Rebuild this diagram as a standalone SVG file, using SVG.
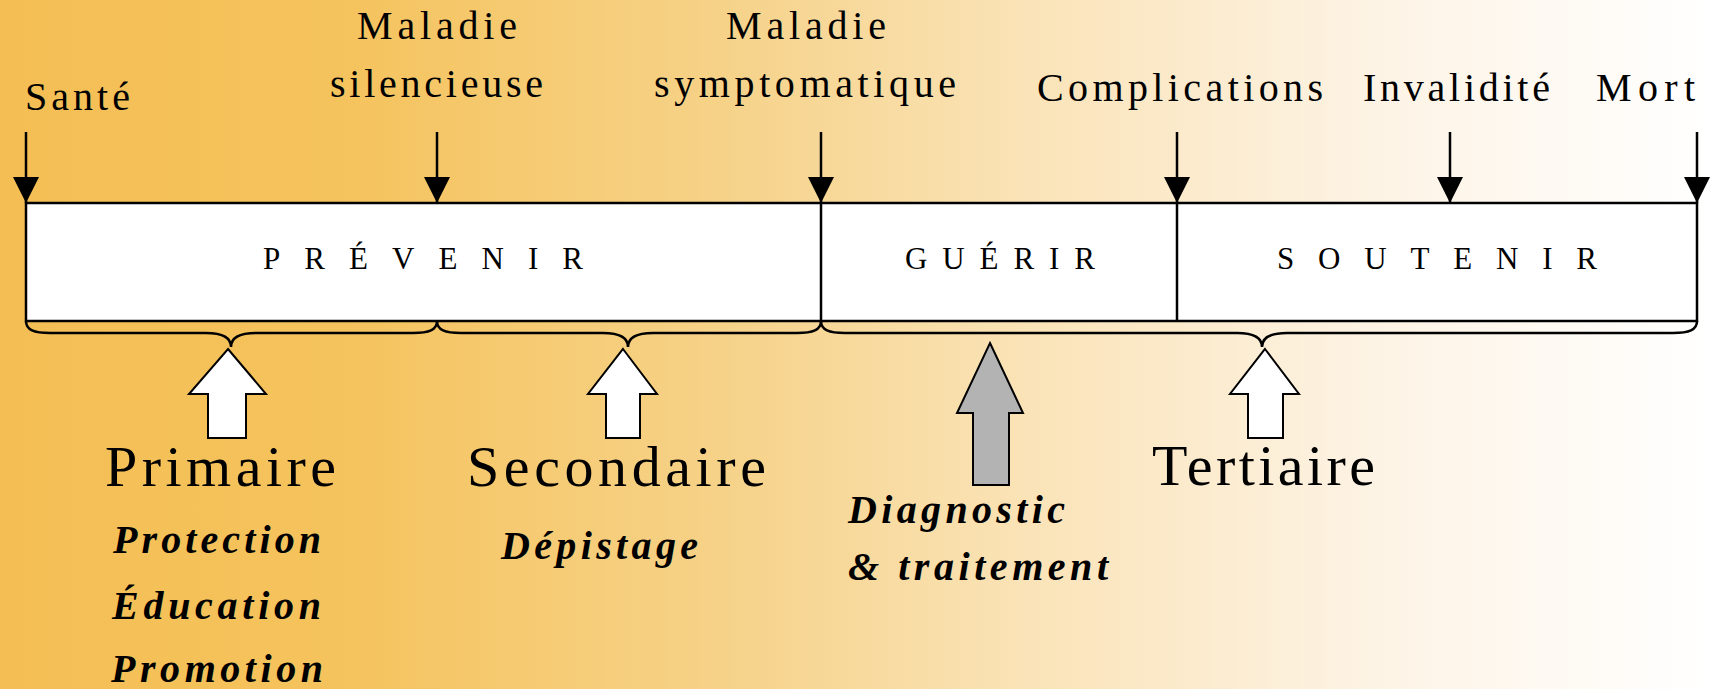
<svg xmlns="http://www.w3.org/2000/svg" width="1712" height="689" viewBox="0 0 1712 689">
  <defs>
    <linearGradient id="bg" x1="0" y1="0" x2="1" y2="0">
      <stop offset="0" stop-color="#F4BE54"/>
      <stop offset="0.2" stop-color="#F5C35D"/>
      <stop offset="0.42" stop-color="#F6D288"/>
      <stop offset="0.6" stop-color="#FAE3B7"/>
      <stop offset="0.8" stop-color="#FDF3E4"/>
      <stop offset="1" stop-color="#FFFFFF"/>
    </linearGradient>
    <marker id="ah" markerUnits="userSpaceOnUse" markerWidth="28" markerHeight="26" refX="26" refY="13" orient="auto">
      <path d="M0,0 L26,13 L0,26 Z" fill="#000"/>
    </marker>
    <style>
      .lbl { font-family: "Liberation Serif", "Times New Roman", serif; font-size: 40px; fill: #000; }
      .seg { font-family: "Liberation Serif", "Times New Roman", serif; font-size: 31px; fill: #000; }
      .lvl { font-family: "Liberation Serif", "Times New Roman", serif; font-size: 58px; fill: #000; }
      .act { font-family: "Liberation Serif", "Times New Roman", serif; font-size: 40px; font-weight: bold; font-style: italic; fill: #000; }
      .tick { stroke: #000; stroke-width: 2.5; fill: none; marker-end: url(#ah); }
      .box { fill: #fff; stroke: #000; stroke-width: 2.5; }
      .div { stroke: #000; stroke-width: 2.5; }
      .brace { fill: none; stroke: #000; stroke-width: 2.5; }
      .barrow { fill: #fff; stroke: #000; stroke-width: 2; }
      .garrow { fill: #B3B3B3; stroke: #000; stroke-width: 2; }
    </style>
  </defs>

  <rect x="0" y="0" width="1712" height="689" fill="url(#bg)"/>

  <!-- Segments box -->
  <g id="segments">
    <rect class="box" x="26" y="203" width="1671" height="118"/>
    <line class="div" x1="821" y1="203" x2="821" y2="321"/>
    <line class="div" x1="1177" y1="203" x2="1177" y2="321"/>
  </g>
  <g id="prevenir"><text class="seg" x="263" y="269" textLength="320" lengthAdjust="spacing">PRÉVENIR</text></g>
  <g id="guerir"><text class="seg" x="905" y="269" textLength="190" lengthAdjust="spacing">GUÉRIR</text></g>
  <g id="soutenir"><text class="seg" x="1277" y="269" textLength="320" lengthAdjust="spacing">SOUTENIR</text></g>

  <!-- Time points -->
  <g id="sante"><text class="lbl" x="25" y="110" textLength="105" lengthAdjust="spacing">Santé</text></g>
  <g id="maladie-silencieuse">
    <text class="lbl" x="357" y="39" textLength="160" lengthAdjust="spacing">Maladie</text>
    <text class="lbl" x="330" y="97" textLength="213" lengthAdjust="spacing">silencieuse</text>
  </g>
  <g id="maladie-symptomatique">
    <text class="lbl" x="726" y="39" textLength="160" lengthAdjust="spacing">Maladie</text>
    <text class="lbl" x="654" y="97" textLength="302" lengthAdjust="spacing">symptomatique</text>
  </g>
  <g id="complications"><text class="lbl" x="1037" y="101" textLength="286" lengthAdjust="spacing">Complications</text></g>
  <g id="invalidite"><text class="lbl" x="1363" y="101" textLength="187" lengthAdjust="spacing">Invalidité</text></g>
  <g id="mort"><text class="lbl" x="1596" y="101" textLength="99" lengthAdjust="spacing">Mort</text></g>

  <!-- Levels -->
  <g id="primaire">
    <text class="lvl" x="105" y="486" textLength="231" lengthAdjust="spacing">Primaire</text>
    <text class="act" x="113" y="553" textLength="208" lengthAdjust="spacing">Protection</text>
    <text class="act" x="112" y="619" textLength="209" lengthAdjust="spacing">Éducation</text>
    <text class="act" x="111" y="682" textLength="212" lengthAdjust="spacing">Promotion</text>
  </g>
  <g id="secondaire">
    <text class="lvl" x="467" y="486" textLength="299" lengthAdjust="spacing">Secondaire</text>
    <text class="act" x="501" y="559" textLength="197" lengthAdjust="spacing">Dépistage</text>
  </g>
  <g id="diagnostic">
    <text class="act" x="848" y="523" textLength="217" lengthAdjust="spacing">Diagnostic</text>
    <text class="act" x="848" y="580" textLength="260" lengthAdjust="spacing">&amp; traitement</text>
  </g>
  <g id="tertiaire">
    <text class="lvl" x="1152" y="485" textLength="223" lengthAdjust="spacing">Tertiaire</text>
  </g>

  <!-- Connectors -->
  <g id="connectors">
    <line class="tick" x1="26" y1="132" x2="26" y2="203"/>
    <line class="tick" x1="437" y1="132" x2="437" y2="203"/>
    <line class="tick" x1="821" y1="132" x2="821" y2="203"/>
    <line class="tick" x1="1177" y1="132" x2="1177" y2="203"/>
    <line class="tick" x1="1450" y1="132" x2="1450" y2="203"/>
    <line class="tick" x1="1697" y1="132" x2="1697" y2="203"/>

    <path class="brace" d="M26,321 C26,330 34,333 50,333 L206,333 C222,333 231,337 231,347 C231,337 240,333 256,333 L413,333 C429,333 437,330 437,321"/>
    <path class="brace" d="M437,321 C437,330 445,333 461,333 L603,333 C619,333 628,337 628,347 C628,337 637,333 653,333 L797,333 C813,333 821,330 821,321"/>
    <path class="brace" d="M821,321 C821,330 829,333 845,333 L1237,333 C1253,333 1262,337 1262,347 C1262,337 1271,333 1287,333 L1673,333 C1689,333 1697,330 1697,321"/>

    <polygon class="barrow" points="228,349 266,394 246,394 246,438 208,438 208,394 189,394"/>
    <polygon class="barrow" points="623,349 657,394 640,394 640,438 606,438 606,394 588,394"/>
    <polygon class="garrow" points="990,343 1023,413 1009,413 1009,485 973,485 973,413 957,413"/>
    <polygon class="barrow" points="1265,349 1299,394 1283,394 1283,438 1248,438 1248,394 1230,394"/>
  </g>
</svg>
